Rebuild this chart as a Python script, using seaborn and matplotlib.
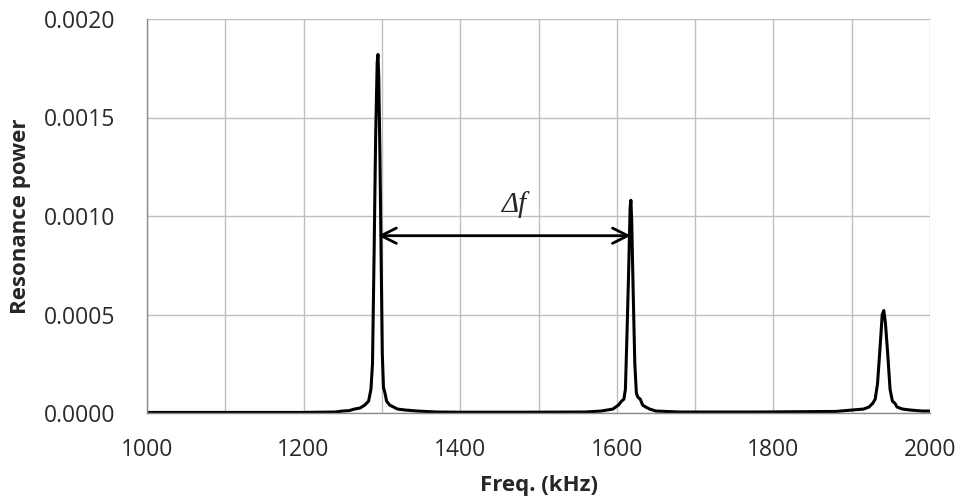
import numpy as np
import pandas as pd
import matplotlib
matplotlib.use("Agg")
import matplotlib.pyplot as plt
import seaborn as sns

# Spectrum (frequency in kHz, resonance power)
freq_khz = [1000, 1100, 1200, 1240, 1250, 1258, 1265, 1272, 1278, 1283, 1286, 1288,
            1290, 1292, 1294, 1295, 1296, 1297.5, 1299, 1300.5, 1302, 1304, 1306,
            1310, 1315, 1320, 1330, 1345, 1370, 1400, 1480, 1560, 1580, 1595, 1602,
            1606, 1609, 1611, 1613, 1615, 1617, 1618, 1619, 1621, 1623, 1625, 1627,
            1630, 1633, 1637, 1642, 1650, 1680, 1780, 1880, 1900, 1915, 1922, 1927,
            1930, 1933, 1936, 1939, 1941, 1943, 1946, 1949, 1952, 1955, 1958, 1965,
            1975, 1990, 2000]
power = [0.000003, 0.000003, 0.000003, 0.000005, 0.00001, 0.000012, 0.00002, 0.000025,
         0.00004, 0.00006, 0.00012, 0.00025, 0.0008, 0.0014, 0.00178, 0.00182, 0.0017,
         0.0013, 0.0008, 0.0003, 0.00013, 0.0001, 0.00006, 0.00004, 0.00003, 0.00002,
         0.000015, 0.00001, 0.000005, 0.000004, 0.000004, 0.000005, 0.00001, 0.00002,
         0.00004, 0.00006, 0.00007, 0.00012, 0.0004, 0.0007, 0.00104, 0.00108, 0.00098,
         0.0006, 0.00025, 0.0001, 0.00008, 0.00007, 0.00004, 0.00003, 0.00002, 0.00001,
         0.000005, 0.000005, 0.000008, 0.000015, 0.00002, 0.00003, 0.00005, 0.00007,
         0.00015, 0.00032, 0.0005, 0.00052, 0.00046, 0.0003, 0.00012, 0.00006, 0.00005,
         0.00003, 0.00002, 0.000015, 0.00001, 0.00001]

x_major = [1000, 1200, 1400, 1600, 1800, 2000]
x_minor = [1100, 1300, 1500, 1700, 1900]
y_ticks = [0.0, 0.0005, 0.0010, 0.0015, 0.0020]
y_labels = ["0.0000", "0.0005", "0.0010", "0.0015", "0.0020"]

arrow_start = (1295, 0.0009)
arrow_end = (1618, 0.0009)
delta_label_pos = (1470, 0.00106)

df = pd.DataFrame({"freq": freq_khz, "power": power})

sns.set_style("white")
plt.rcParams["font.family"] = ["Open Sans", "DejaVu Sans"]

fig = plt.figure(figsize=(9.59, 5.03), dpi=100)
ax = fig.add_axes([147 / 959, 1 - 413 / 503, (930 - 147) / 959, (413 - 19) / 503])

sns.lineplot(data=df, x="freq", y="power", color="black", linewidth=2.2, ax=ax)

ax.set_xlim(1000, 2000)
ax.set_ylim(0, 0.0020)
ax.set_xticks(x_major)
ax.set_xticks(x_minor, minor=True)
ax.set_yticks(y_ticks)
ax.set_yticklabels(y_labels)
ax.grid(True, which="both", color="#bfbfbf", linewidth=1.0)
ax.set_axisbelow(True)

for side in ["top", "right"]:
    ax.spines[side].set_visible(False)
for side in ["left", "bottom"]:
    ax.spines[side].set_color("#8c8c8c")
    ax.spines[side].set_linewidth(1.0)

ax.tick_params(axis="both", which="major", direction="out", length=7, width=1,
               color="#8c8c8c", labelsize=16.5, labelcolor="#2a2a2a")
ax.tick_params(axis="y", which="major", pad=16)
ax.tick_params(axis="x", which="major", pad=11)
ax.tick_params(axis="x", which="minor", length=0)

ax.set_xlabel("Freq. (kHz)", fontsize=16, fontweight="bold", labelpad=9)
ax.set_ylabel("Resonance power", fontsize=16, fontweight="bold", labelpad=9)

ax.annotate("", xy=arrow_start, xytext=arrow_end,
            arrowprops=dict(arrowstyle="<->,head_length=1.1,head_width=0.55",
                            color="black", lw=2, shrinkA=0, shrinkB=0))
ax.text(delta_label_pos[0], delta_label_pos[1], "Δf", fontsize=21, style="italic",
        family=["Liberation Serif", "DejaVu Serif"], ha="center", va="center")

fig.savefig("out.png", dpi=100)
